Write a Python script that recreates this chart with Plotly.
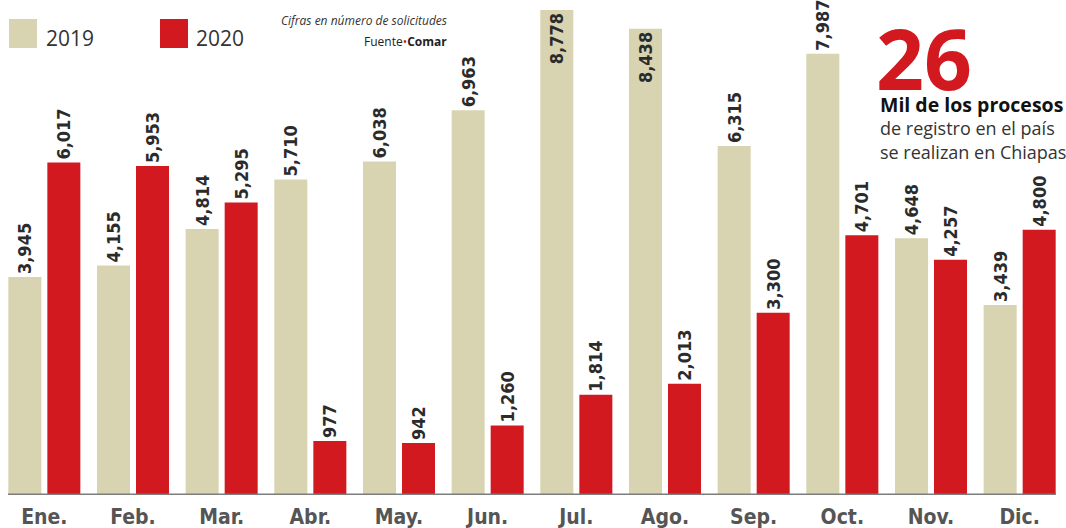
import plotly.graph_objects as go

months = ["Ene.", "Feb.", "Mar.", "Abr.", "May.", "Jun.", "Jul.", "Ago.", "Sep.", "Oct.", "Nov.", "Dic."]
v2019 = [3945, 4155, 4814, 5710, 6038, 6963, 8778, 8438, 6315, 7987, 4648, 3439]
v2020 = [6017, 5953, 5295, 977, 942, 1260, 1814, 2013, 3300, 4701, 4257, 4800]
series_names = ["2019", "2020"]

C19 = "#d8d3b1"
C20 = "#d31920"
LABEL_FONT = "Liberation Sans Narrow, DejaVu Sans Condensed, Arial Narrow, sans-serif"

def fmt(v):
    return f"{v:,}"

def positions(vals, limit=8000):
    return ["inside" if v > limit else "outside" for v in vals]

fig = go.Figure()
for name, vals, col in [(series_names[0], v2019, C19), (series_names[1], v2020, C20)]:
    fig.add_trace(go.Bar(
        x=months, y=vals, name=name, marker=dict(color=col, line=dict(width=0)),
        text=[fmt(v) for v in vals], textposition=positions(vals),
        textangle=-90, insidetextanchor="end", constraintext="none",
        textfont=dict(family=LABEL_FONT, size=18, color="#2b2b2b", weight="bold"),
        cliponaxis=False, showlegend=False,
    ))

fig.update_layout(
    width=1066, height=528,
    margin=dict(l=0, r=2, t=0, b=33),
    paper_bgcolor="white", plot_bgcolor="white",
    barmode="group", bargap=0.12, bargroupgap=0.154,
    xaxis=dict(showgrid=False, zeroline=False, showline=False, ticks="",
               ticklabelstandoff=7,
               tickfont=dict(family=LABEL_FONT, size=21, color="#555555", weight="bold"),
               range=[-0.5, 11.5], fixedrange=True),
    yaxis=dict(visible=False, range=[0, 8960], fixedrange=True),
    font=dict(family="Open Sans, sans-serif"),
)

# baseline
fig.add_shape(type="line", xref="x", yref="y", x0=-0.41, x1=11.41, y0=0, y1=0,
              line=dict(color="#7d7d7d", width=3), layer="above")

# custom legend
fig.add_shape(type="rect", xref="paper", yref="paper", x0=9/1064, x1=37/1064,
              y0=1-48/495, y1=1-19/495, fillcolor=C19, line=dict(width=0))
fig.add_shape(type="rect", xref="paper", yref="paper", x0=160/1064, x1=188/1064,
              y0=1-48/495, y1=1-19/495, fillcolor=C20, line=dict(width=0))
fig.add_annotation(xref="paper", yref="paper", x=44/1064, y=1-38/495, text=series_names[0],
                   showarrow=False, xanchor="left", yanchor="middle",
                   font=dict(family="Open Sans, sans-serif", size=21, color="#333333"))
fig.add_annotation(xref="paper", yref="paper", x=194/1064, y=1-38/495, text=series_names[1],
                   showarrow=False, xanchor="left", yanchor="middle",
                   font=dict(family="Open Sans, sans-serif", size=21, color="#333333"))

# source notes
fig.add_annotation(xref="paper", yref="paper", x=449/1064, y=1-20/495,
                   text="<i>Cifras en número de solicitudes</i>", showarrow=False,
                   xanchor="right", yanchor="middle",
                   font=dict(family="Open Sans, sans-serif", size=12, color="#333333"))
fig.add_annotation(xref="paper", yref="paper", x=449/1064, y=1-42/495,
                   text="Fuente<span style='color:#d31920'>•</span><b>Comar</b>", showarrow=False,
                   xanchor="right", yanchor="middle",
                   font=dict(family="Open Sans, sans-serif", size=12, color="#222222"))

# big callout
fig.add_annotation(xref="paper", yref="paper", x=874/1064, y=1-58/495,
                   text="<b>26</b>", showarrow=False, xanchor="left", yanchor="middle",
                   font=dict(family="Open Sans, sans-serif", size=84, color=C20, weight=900))
fig.add_annotation(xref="paper", yref="paper", x=878/1064, y=1-127/495,
                   text=("<span style='font-size:19.5px;color:#111111'><b>Mil de los procesos</b></span><br>"
                         "de registro en el país<br>se realizan en Chiapas"),
                   showarrow=False, xanchor="left", yanchor="middle", align="left",
                   font=dict(family="Open Sans, sans-serif", size=18, color="#333333"))

fig.write_html("out.html", config={"displayModeBar": False},
               post_script="document.body.style.margin='0';document.body.style.overflow='hidden';")
